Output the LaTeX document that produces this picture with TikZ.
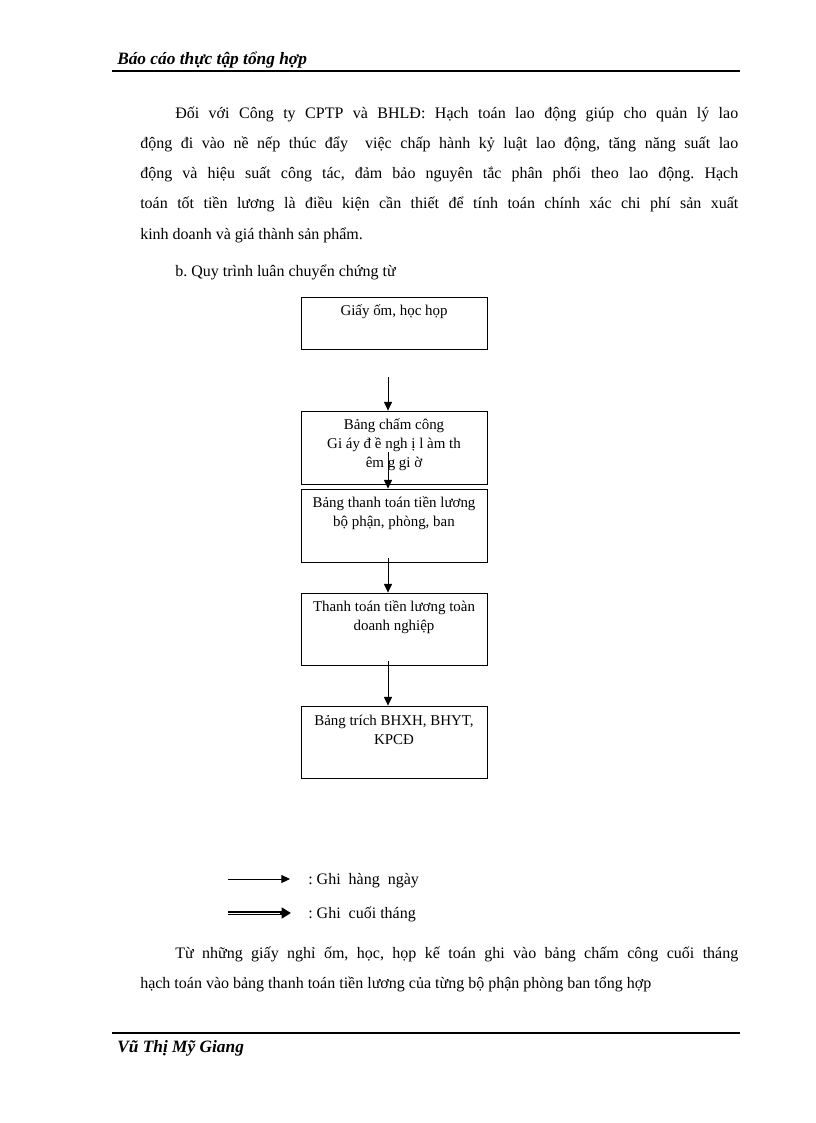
\documentclass[tikz,border=0pt]{standalone}
\usepackage{fontspec}
\setmainfont{Liberation Serif}
\usetikzlibrary{arrows.meta}
\frenchspacing
\begin{document}
\begin{tikzpicture}[x=0.75pt,y=-0.75pt,
  txt/.style={anchor=base west,inner sep=0pt,font=\fontsize{12pt}{14pt}\selectfont},
  head/.style={anchor=base west,inner sep=0pt,font=\fontsize{13pt}{15pt}\selectfont\bfseries\itshape},
  box/.style={draw,line width=0.6pt,minimum width=139.5pt,inner sep=0pt},
  btxt/.style={anchor=base,inner sep=0pt,align=center,font=\fontsize{11.2pt}{13.9pt}\selectfont},
  arr/.style={line width=0.75pt,-{Triangle[length=6.5pt,width=6pt]}},
  rule/.style={line width=1.6pt}]
\useasboundingbox (0,0) rectangle (816,1123);
% header
\node[head] (hd) at (117,65) {Báo cáo thực tập tổng hợp};
\coordinate (hl1) at (112,71); \coordinate (hl2) at (740,71);
\draw[rule] (hl1) -- (hl2);
% paragraph 1
\node[txt] (p1) at (175,119) {\makebox[422.25pt][s]{Đối với Công ty CPTP và BHLĐ: Hạch toán lao động giúp cho quản lý lao}};
\node[txt] (p2) at (140,149) {\makebox[448.5pt][s]{động đi vào nề nếp thúc đẩy \ việc chấp hành kỷ luật lao động, tăng năng suất lao}};
\node[txt] (p3) at (140,179) {\makebox[448.5pt][s]{động và hiệu suất công tác, đảm bảo nguyên tắc phân phối theo lao động. Hạch}};
\node[txt] (p4) at (140,209) {\makebox[448.5pt][s]{toán tốt tiền lương là điều kiện cần thiết để tính toán chính xác chi phí sản xuất}};
\node[txt] (p5) at (140,239) {kinh doanh và giá thành sản phẩm.};
\node[txt] (sub) at (175,276) {b. Quy trình luân chuyển chứng từ};
% boxes
\node[box,minimum height=39pt] (b1) at (394,323) {};
\node[box,minimum height=54.75pt] (b2) at (394,447.5) {};
\node[box,minimum height=54.75pt] (b3) at (394,525.5) {};
\node[box,minimum height=54pt] (b4) at (394,629) {};
\node[box,minimum height=54pt] (b5) at (394,742) {};
\node[btxt] (t1) at (394,315) {Giấy ốm, học họp};
\node[btxt] (t2) at (394,467) {Bảng chấm công\\Gi áy đ ề ngh ị l àm th\\êm g gi ờ};
\node[btxt] (t3) at (394,526) {Bảng thanh toán tiền lương\\bộ phận, phòng, ban};
\node[btxt] (t4) at (394,630) {Thanh toán tiền lương toàn\\doanh nghiệp};
\node[btxt] (t5) at (394,744) {Bảng trích BHXH, BHYT,\\KPCĐ};
% arrows
\coordinate (a1) at (388,377);
\coordinate (a2) at (388,452);
\coordinate (a3) at (388,558);
\coordinate (a4) at (388,661);
\draw[arr] (a1) -- (a1 |- b2.north);
\draw[arr] (a2) -- (a2 |- b3.north);
\draw[arr] (a3) -- (a3 |- b4.north);
\draw[arr] (a4) -- (a4 |- b5.north);
% legend
\coordinate (l1s) at (228,879); \coordinate (l1e) at (290,879);
\coordinate (l2s) at (228,913); \coordinate (l2e) at (291,913);
\draw[arr] (l1s) -- (l1e);
\draw[line width=2.8pt,-{Triangle[length=7pt,width=8pt]}] (l2s) -- (l2e);
\draw[white,line width=0.7pt,shorten >=8pt] (l2s) -- (l2e);
\node[txt] (g1) at (308,884) {: Ghi \ hàng \ ngày};
\node[txt] (g2) at (308,918) {: Ghi \ cuối tháng};
% paragraph 2
\node[txt] (q1) at (175,958) {\makebox[422.25pt][s]{Từ những giấy nghỉ ốm, học, họp kế toán ghi vào bảng chấm công cuối tháng}};
\node[txt] (q2) at (140,988) {hạch toán vào bảng thanh toán tiền lương của từng bộ phận phòng ban tổng hợp};
% footer
\coordinate (fl1) at (112,1033); \coordinate (fl2) at (740,1033);
\draw[rule] (fl1) -- (fl2);
\node[head] (ft) at (117,1052) {Vũ Thị Mỹ Giang};
\end{tikzpicture}
\end{document}
